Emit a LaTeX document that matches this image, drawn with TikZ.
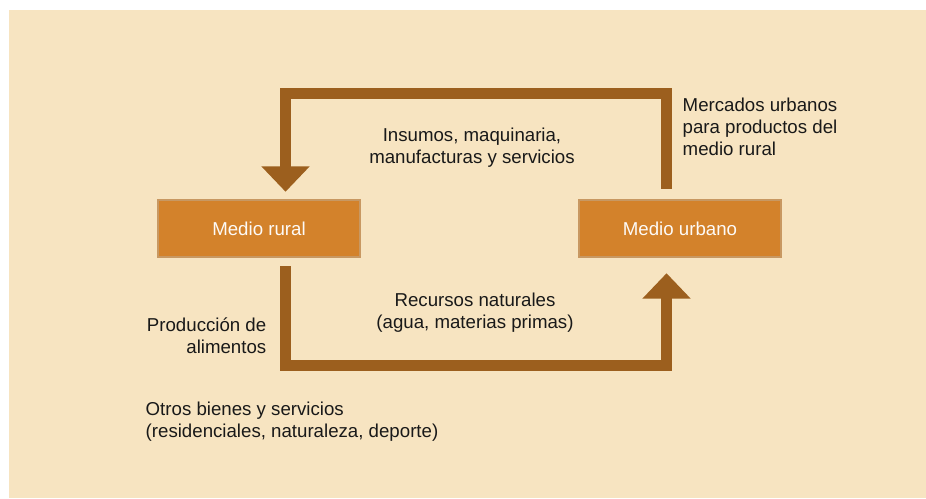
\documentclass[tikz,border=0pt]{standalone}
\usepackage{fontspec}
\setmainfont{Liberation Sans}
\usetikzlibrary{arrows.meta,positioning}

\begin{document}
\begin{tikzpicture}[x=0.75pt, y=-0.75pt,
        every node/.style={font=\fontsize{14}{16.5}\selectfont, text=black!90},
        medio/.style={draw=mediobrd, line width=1.6pt, fill=mediofill, minimum width=152pt, minimum height=43pt, text=white!96!mediofill},
        flujo/.style={draw=flujocol, line width=8.6pt, line join=miter, -{Triangle[width=35pt, length=19pt]}}]
        \definecolor{fondo}{RGB}{247,228,193}
        \definecolor{mediofill}{RGB}{211,130,43}
        \definecolor{mediobrd}{RGB}{200,152,98}
        \definecolor{flujocol}{RGB}{156,95,30}

        % Background panel
        \useasboundingbox (0,0) rectangle (926,499);
        \fill[white] (0,0) rectangle (926,499);
        \fill[fondo] (9,10) rectangle (926,498);

        % The two environments
        \node[medio] (rural) at (259,228.5) {Medio rural};
        \node[medio] (urbano) at (680,228.5) {Medio urbano};

        % Flows between them
        \draw[flujo] ([xshift=-10.1pt, yshift=7.5pt]urbano.north) -- ++(0,-95) -| ([xshift=19.9pt, yshift=5.25pt]rural.north);
        \draw[flujo] ([xshift=19.9pt, yshift=-6pt]rural.south) -- ++(0,99.5) -| ([xshift=-10.1pt, yshift=-11.25pt]urbano.south);

        % Labels
        \node[align=center] (insumos) at (472,147.5) {Insumos, maquinaria,\\manufacturas y servicios};
        \node[align=left, anchor=north west] (mercados) at (678,93) {Mercados urbanos\\para productos del\\medio rural};
        \node[align=center] (recursos) at (475,312.5) {Recursos naturales\\(agua, materias primas)};
        \node[align=right, anchor=east] (produccion) at (271,335.5) {Producción de\\alimentos};
        \node[align=left, anchor=west] (otros) at (141,422) {Otros bienes y servicios\\(residenciales, naturaleza, deporte)};
    \end{tikzpicture}
\end{document}
